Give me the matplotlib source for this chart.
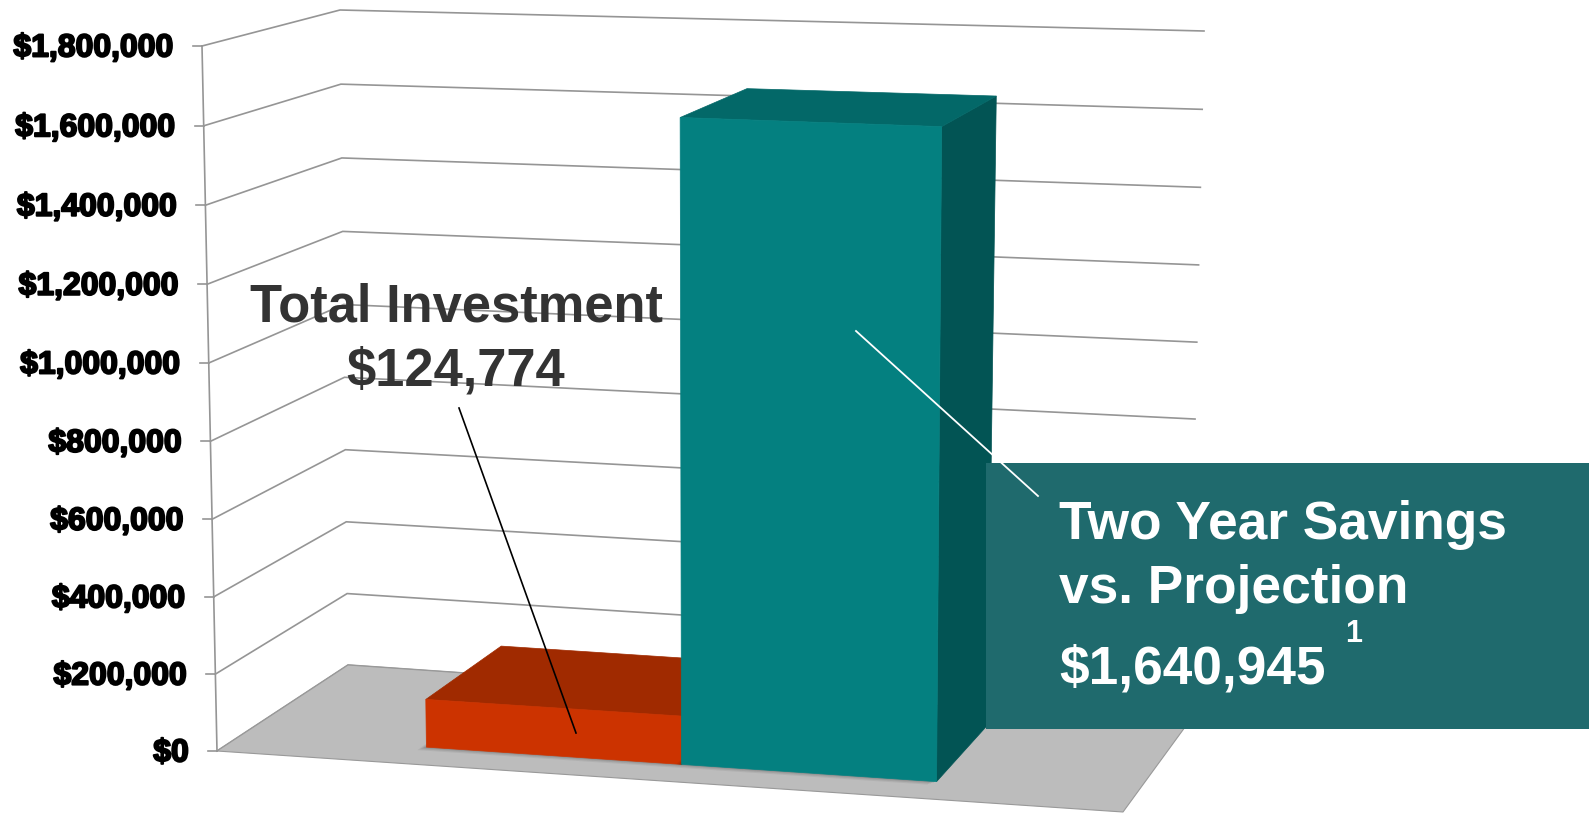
import numpy as np
import matplotlib
matplotlib.use("Agg")
import matplotlib.pyplot as plt
from matplotlib.patches import Polygon, Rectangle
import matplotlib.patheffects as pe

# ---------------- data ----------------
series_names = ["Total Investment", "Two Year Savings\nvs. Projection"]
values = [124774, 1640945]
y_ticks = [0, 200000, 400000, 600000, 800000, 1000000,
           1200000, 1400000, 1600000, 1800000]
y_tick_labels = ["$" + format(t, ",") for t in y_ticks]
y_max = 1800000
footnote = "1"

# ---------------- style ----------------
front_colors = ["#CC3300", "#048080"]
top_colors = ["#A02A00", "#036868"]
side_colors = ["#882200", "#025454"]
floor_color = "#BCBCBC"
grid_color = "#959595"
box_color = "#1F6A6D"
W, H = 1589, 814
FONT = "Liberation Sans"

# ---------------- 3-D frame (pixel positions of plot-box corners) ----------------
FRAME = {
    (0, 0, 0): (217, 751), (1, 0, 0): (1123, 812),
    (0, 1, 0): (348, 665), (1, 1, 0): (1188, 723),
    (0, 0, 1): (202, 46),  (1, 0, 1): (1133, 77),
    (0, 1, 1): (340, 10),  (1, 1, 1): (1204, 31),
}
PERSP = -0.0208


def warp(w):
    return w * (1 + PERSP) / (1 + PERSP * w)


def proj(u, v, value):
    w = warp(value / y_max)
    x = y = 0.0
    for (a, b, c), (px, py) in FRAME.items():
        k = (u if a else 1 - u) * (v if b else 1 - v) * (w if c else 1 - w)
        x += k * px
        y += k * py
    return (x, y)


fig = plt.figure(figsize=(W / 100, H / 100), dpi=100)
ax = fig.add_axes([0, 0, 1, 1])
ax.set_xlim(0, W)
ax.set_ylim(H, 0)
ax.axis("off")

# gridlines on left and back walls
for t in y_ticks:
    pts = [proj(0, 0, t), proj(0, 1, t), proj(1, 1, t)]
    ax.plot([p[0] for p in pts], [p[1] for p in pts], color=grid_color,
            lw=1.2, zorder=1, solid_joinstyle="miter")

# floor
floor = [proj(0, 0, 0), proj(1, 0, 0), proj(1, 1, 0), proj(0, 1, 0)]
ax.add_patch(Polygon(floor, closed=True, facecolor=floor_color,
                     edgecolor="#999999", lw=0.8, zorder=2))

# value axis line, ticks and labels
a0, a1 = proj(0, 0, 0), proj(0, 0, y_max)
ax.plot([a0[0], a1[0]], [a0[1], a1[1]], color=grid_color, lw=1.2, zorder=3)
for t, lab in zip(y_ticks, y_tick_labels):
    px, py = proj(0, 0, t)
    ax.plot([px - 9, px], [py, py], color=grid_color, lw=1.2, zorder=3)
    ax.text(px - 28, py + 10.5, lab, ha="right", va="baseline", fontsize=23,
            fontweight="bold", family=FONT, color="black", zorder=3,
            path_effects=[pe.Stroke(linewidth=1.4, foreground="black"), pe.Normal()])

# bars (clustered, one category)
n = len(values)
bar_w = 0.2855
cluster_c = 0.492
v0, v1 = 0.19, 0.83
for i, val in enumerate(values):
    u0 = cluster_c - n * bar_w / 2 + i * bar_w
    u1 = u0 + bar_w
    z = 4 + i
    # soft shadow on floor
    foot = [proj(u0, v0, 0), proj(u1, v0, 0), proj(u1, v1, 0), proj(u0, v1, 0)]
    for dx, dy, al in [(-9, 3, 0.06), (-6, 2, 0.08), (-3, 1, 0.10)]:
        ax.add_patch(Polygon([(x + dx, y + dy) for x, y in foot], closed=True,
                             facecolor="black", edgecolor="none", alpha=al, zorder=z))
    right = [proj(u1, v0, 0), proj(u1, v1, 0), proj(u1, v1, val), proj(u1, v0, val)]
    top = [proj(u0, v0, val), proj(u1, v0, val), proj(u1, v1, val), proj(u0, v1, val)]
    front = [proj(u0, v0, 0), proj(u1, v0, 0), proj(u1, v0, val), proj(u0, v0, val)]
    ax.add_patch(Polygon(right, closed=True, facecolor=side_colors[i], edgecolor=side_colors[i], lw=0.5, zorder=z))
    ax.add_patch(Polygon(top, closed=True, facecolor=top_colors[i], edgecolor=top_colors[i], lw=0.5, zorder=z))
    ax.add_patch(Polygon(front, closed=True, facecolor=front_colors[i], edgecolor=front_colors[i], lw=0.5, zorder=z))

# callout box for the savings bar
ax.add_patch(Rectangle((986, 463), W - 986, 266, facecolor=box_color,
                       edgecolor="none", zorder=8))

# leader lines
ax.plot([459, 576], [408, 733], color="black", lw=1.2, zorder=9)
ax.plot([856, 1038], [331, 496], color="white", lw=1.3, zorder=9)

# annotation texts
ax.text(456, 322, series_names[0], ha="center", va="baseline", fontsize=37.8,
        fontweight="bold", family=FONT, color="#333333", zorder=10)
ax.text(456, 385, "$" + format(values[0], ","), ha="center", va="baseline",
        fontsize=37.8, fontweight="bold", family=FONT, color="#333333", zorder=10)

line1, line2 = series_names[1].split("\n")
ax.text(1059, 539, line1, ha="left", va="baseline", fontsize=38.3,
        fontweight="bold", family=FONT, color="white", zorder=10)
ax.text(1059, 603, line2, ha="left", va="baseline", fontsize=38.3,
        fontweight="bold", family=FONT, color="white", zorder=10)
ax.text(1059, 683, "$" + format(values[1], ","), ha="left", va="baseline",
        fontsize=38.3, fontweight="bold", family=FONT, color="white", zorder=10)
ax.text(1345, 642, footnote, ha="left", va="baseline", fontsize=22,
        fontweight="bold", family=FONT, color="white", zorder=10)

fig.savefig("out.png", dpi=100)
